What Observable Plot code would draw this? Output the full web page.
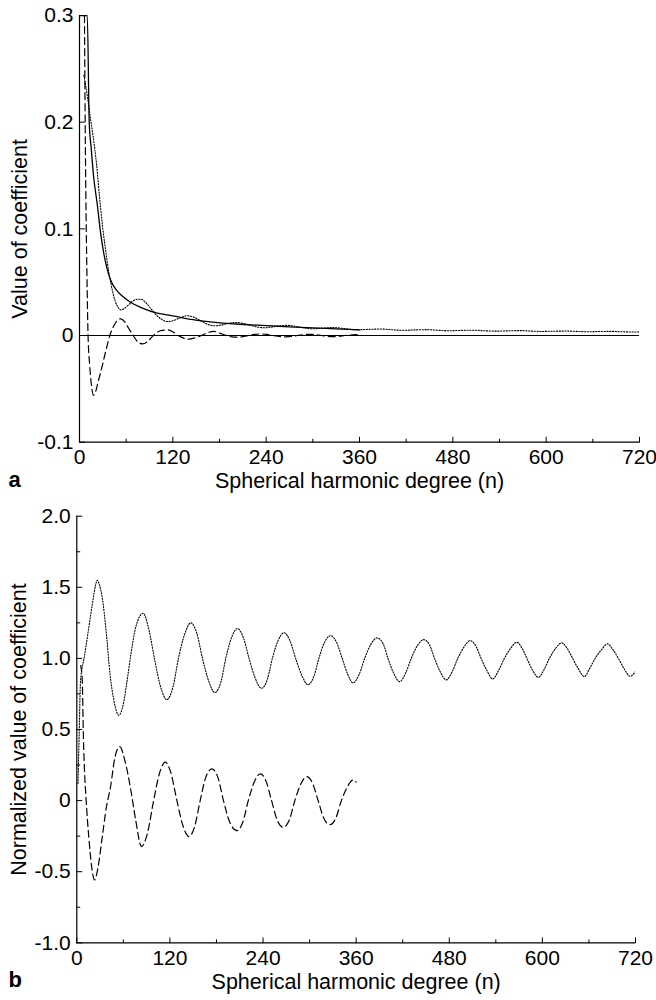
<!DOCTYPE html>
<html>
<head>
<meta charset="utf-8">
<script src="https://cdn.jsdelivr.net/npm/d3@7"></script>
<script src="https://cdn.jsdelivr.net/npm/@observablehq/plot@0.6"></script>
<style>
  html, body { margin: 0; padding: 0; background: white; }
  #chart svg { display: block; }
</style>
</head>
<body>
<div id="chart"></div>
<script>
// ---------- Data ----------
const xTicks = [0, 120, 240, 360, 480, 600, 720];
const xMinorTicks = [60, 180, 300, 420, 540, 660];
const xTickLabels = ["0", "120", "240", "360", "480", "600", "720"];
const xLabel = "Spherical harmonic degree (n)";

// Panel a
const aYTicks = [-0.1, 0, 0.1, 0.2, 0.3];
const aYTickLabels = ["-0.1", "0", "0.1", "0.2", "0.3"];
const aYLabel = "Value of coefficient";
const aYDomain = [-0.1, 0.3];

const aSolid = [[1,0.3],[10,0.3],[12.5,0.2],[15,0.176],[18,0.15],[23,0.122],[27,0.097],[31,0.078],[35,0.064],[40,0.052],[47,0.043],[55,0.037],[66,0.031],[80,0.026],[100,0.021],[120,0.0185],[143,0.0152],[160,0.0135],[181,0.0118],[200,0.0108],[220,0.0100],[240,0.0093],[270,0.0082],[300,0.0072],[330,0.0062],[360,0.0053]];

const aDashed = [[6.4,0.3],[7.3,0.2],[8.2,0.13],[9.3,0.07],[11,0.0],[13,-0.027],[15,-0.044],[18,-0.056],[21,-0.052],[24,-0.043],[27,-0.035],[31,-0.023],[35,-0.011],[39,0],[44,0.009],[49,0.0145],[53,0.0157],[58,0.013],[63,0.007],[69,0],[75,-0.006],[81,-0.0078],[87,-0.006],[95,0],[104,0.0045],[113,0.0053],[120,0.0035],[127,0],[134,-0.0025],[141,-0.0034],[149,-0.002],[157,0],[165,0.0028],[173,0.0038],[181,0.002],[189,0],[196,-0.0012],[203,-0.0015],[210,-0.001],[217,0],[225,0.001],[233,0.0015],[241,0.001],[248,0],[256,-0.0008],[265,-0.0012],[273,-0.0008],[280,0],[288,0.0008],[296,0.0011],[304,0.0008],[311,0],[318,-0.0007],[326,-0.001],[334,-0.0007],[341,0],[349,0.0005],[356,0.0008],[360,0.0007]];

const aDotted = [[5.5,0.244],[10,0.225],[14,0.204],[18,0.184],[22,0.16],[26,0.128],[30,0.1],[34,0.078],[38,0.058],[42,0.043],[46,0.032],[50,0.026],[53,0.024],[57,0.025],[62,0.028],[68,0.032],[74,0.034],[79,0.034],[85,0.031],[92,0.025],[99,0.019],[106,0.015],[113,0.0131],[120,0.0138],[128,0.0162],[138,0.0185],[146,0.0175],[155,0.0142],[164,0.0108],[173,0.0091],[182,0.0098],[192,0.0115],[201,0.0122],[210,0.0114],[220,0.0095],[229,0.0079],[238,0.0073],[247,0.0079],[257,0.009],[267,0.0095],[277,0.0087],[288,0.0072],[298,0.0063],[308,0.0066],[318,0.0072],[327,0.0075],[337,0.0068],[347,0.0059],[356,0.0054],[366,0.0056],[376,0.0059],[387,0.0061],[397,0.0057],[406,0.0052],[416,0.0049],[426,0.0051],[437,0.0054],[447,0.0055],[457,0.0051],[466,0.0047],[476,0.0045],[486,0.0047],[497,0.0049],[507,0.005],[517,0.0046],[526,0.0043],[536,0.0041],[546,0.0043],[557,0.0045],[567,0.0046],[577,0.0043],[586,0.004],[595,0.0038],[605,0.004],[615,0.0041],[625,0.0042],[635,0.004],[644,0.0037],[654,0.0035],[664,0.0037],[674,0.0038],[684,0.0039],[694,0.0036],[704,0.0034],[713,0.0033],[720,0.0034]];

// Panel b
const bYTicks = [-1, -0.5, 0, 0.5, 1, 1.5, 2];
const bYMinorTicks = [-0.75, -0.25, 0.25, 0.75, 1.25, 1.75];
const bYTickLabels = ["-1.0", "-0.5", "0", "0.5", "1.0", "1.5", "2.0"];
const bYLabel = "Normalized value of coefficient";
const bYDomain = [-1, 2];

const bDotted = [[1.5,0.12],[3,0.45],[4.8,0.84],[10,1.02],[15,1.2],[20,1.38],[24,1.51],[26.3,1.55],[29,1.52],[33,1.42],[38,1.18],[43,0.88],[48,0.7],[54,0.6],[60,0.68],[65,0.85],[70,1.04],[76,1.22],[85.5,1.317],[93,1.2],[100,1.0],[108,0.8],[116,0.71],[124,0.8],[131,1.0],[139,1.17],[147,1.25],[155,1.17],[162,1.0],[170,0.84],[178,0.76],[186,0.84],[192,1.0],[199,1.14],[207,1.21],[215,1.14],[222,1.0],[230,0.86],[238,0.79],[246,0.86],[252,1.0],[259,1.12],[267,1.18],[275,1.12],[282,1.0],[290,0.88],[298,0.815],[306,0.88],[312,1.0],[319,1.11],[327,1.16],[335,1.11],[342,1.0],[349,0.89],[356,0.828],[364,0.89],[371,1.0],[379,1.1],[387,1.144],[395,1.1],[401,1.0],[408,0.9],[416,0.837],[424,0.9],[431,1.0],[439,1.09],[447,1.132],[455,1.09],[461,1.0],[468,0.91],[476,0.849],[484,0.91],[491,1.0],[499,1.08],[507,1.125],[515,1.08],[521,1.0],[528,0.92],[536,0.856],[544,0.92],[551,1.0],[559,1.07],[567,1.113],[574,1.07],[580,1.0],[587,0.92],[595,0.867],[602,0.92],[609,1.0],[617,1.07],[625,1.109],[632,1.07],[639,1.0],[646,0.93],[654,0.872],[661,0.93],[668,1.0],[676,1.06],[684,1.102],[691,1.06],[698,1.0],[705,0.93],[713,0.874],[720,0.91]];

const bDashed = [[5,0.95],[7,0.85],[8.5,0.45],[10,0.2],[11.5,0.05],[13.5,-0.12],[15.5,-0.26],[19,-0.46],[23,-0.558],[27,-0.48],[32.7,-0.26],[38,-0.05],[43.4,0.094],[49,0.3],[55.4,0.38],[62,0.28],[69,0.094],[76,-0.14],[83.3,-0.323],[91,-0.23],[99,0],[107,0.2],[114,0.27],[121,0.2],[129,0],[137,-0.18],[144.5,-0.253],[152,-0.18],[159,0],[166,0.16],[174,0.223],[182,0.16],[189,0],[197,-0.15],[206.5,-0.211],[214,-0.15],[221,0],[229,0.135],[236.6,0.188],[244,0.135],[251,0],[258,-0.135],[266,-0.188],[274,-0.135],[281,0],[289,0.12],[296,0.169],[304,0.12],[311,0],[318,-0.12],[326,-0.17],[334,-0.12],[341,0],[349,0.1],[356,0.145],[360,0.13]];

// ---------- Drawing ----------
const fontFamily = "'Liberation Sans', Arial, Helvetica, sans-serif";
const tickShape = {draw(context, l) { context.moveTo(0, 0); context.lineTo(0, -l); }};
const X = d => d[0], Y = d => d[1];

function panel({height, marginLeft, marginRight, marginTop, marginBottom, yDomain, yTicks, yTickLabels, yMinor, yLabel, letter, series, zeroLine, yLabelDx}) {
  const marks = [
    Plot.ruleX([xTicks[0]], {stroke: "black", strokeWidth: 1.2}),
    Plot.ruleY([yDomain[0]], {stroke: "black", strokeWidth: 1.2}),
    Plot.vector(xTicks, {x: d => d, frameAnchor: "bottom", length: 5, rotate: 0, anchor: "start", shape: tickShape, stroke: "black", strokeWidth: 1}),
    Plot.vector(xMinorTicks, {x: d => d, frameAnchor: "bottom", length: 3, rotate: 0, anchor: "start", shape: tickShape, stroke: "black", strokeWidth: 1}),
    Plot.vector(yTicks, {y: d => d, frameAnchor: "left", length: 5, rotate: 90, anchor: "start", shape: tickShape, stroke: "black", strokeWidth: 1}),
    Plot.axisX({ticks: xTicks, tickSize: 0, tickPadding: 7, tickFormat: d => xTickLabels[xTicks.indexOf(d)], label: null, fontSize: 21}),
    Plot.axisY({ticks: yTicks, tickSize: 0, tickPadding: 6, tickFormat: d => yTickLabels[yTicks.indexOf(d)], label: null, fontSize: 21}),
    Plot.text([xLabel], {text: d => d, frameAnchor: "bottom", textAnchor: "middle", dy: 46, fontSize: 21.5}),
    Plot.text([yLabel], {text: d => d, frameAnchor: "left", textAnchor: "middle", dx: yLabelDx, rotate: -90, fontSize: 21.5}),
    Plot.text([letter], {text: d => d, frameAnchor: "bottom-left", dx: -marginLeft + 8, dy: 44.5, textAnchor: "start", fontWeight: "bold", fontSize: 22})
  ];
  if (yMinor) marks.push(Plot.vector(yMinor, {y: d => d, frameAnchor: "left", length: 3, rotate: 90, anchor: "start", shape: tickShape, stroke: "black", strokeWidth: 1}));
  if (zeroLine) marks.push(Plot.ruleY([0], {stroke: "black", strokeWidth: 1.1}));
  for (const s of series) {
    marks.push(Plot.line(s.data, {x: X, y: Y, curve: "monotone-x", stroke: "black", strokeWidth: s.width, strokeDasharray: s.dash, clip: true}));
  }
  return Plot.plot({
    width: 656, height, marginLeft, marginRight, marginTop, marginBottom,
    x: {domain: [0, 720]},
    y: {domain: yDomain},
    style: {fontFamily, fontSize: "21px", color: "black", background: "white", overflow: "visible"},
    marks
  });
}

const chart = document.getElementById("chart");
chart.append(panel({
  height: 500, marginLeft: 79, marginRight: 17, marginTop: 15, marginBottom: 58.3,
  yDomain: aYDomain, yTicks: aYTicks, yTickLabels: aYTickLabels, yMinor: null,
  yLabel: aYLabel, yLabelDx: -59.5, letter: "a", zeroLine: true,
  series: [
    {data: aSolid, width: 1.3, dash: null},
    {data: aDashed, width: 1.2, dash: "7,4"},
    {data: aDotted, width: 1.1, dash: "1.2,1.6"}
  ]
}));
chart.append(panel({
  height: 500, marginLeft: 76.3, marginRight: 21, marginTop: 15.7, marginBottom: 57.7,
  yDomain: bYDomain, yTicks: bYTicks, yTickLabels: bYTickLabels, yMinor: bYMinorTicks,
  yLabel: bYLabel, yLabelDx: -58, letter: "b", zeroLine: false,
  series: [
    {data: bDotted, width: 1.1, dash: "1.2,1.6"},
    {data: bDashed, width: 1.2, dash: "7,4"}
  ]
}));
</script>
</body>
</html>
